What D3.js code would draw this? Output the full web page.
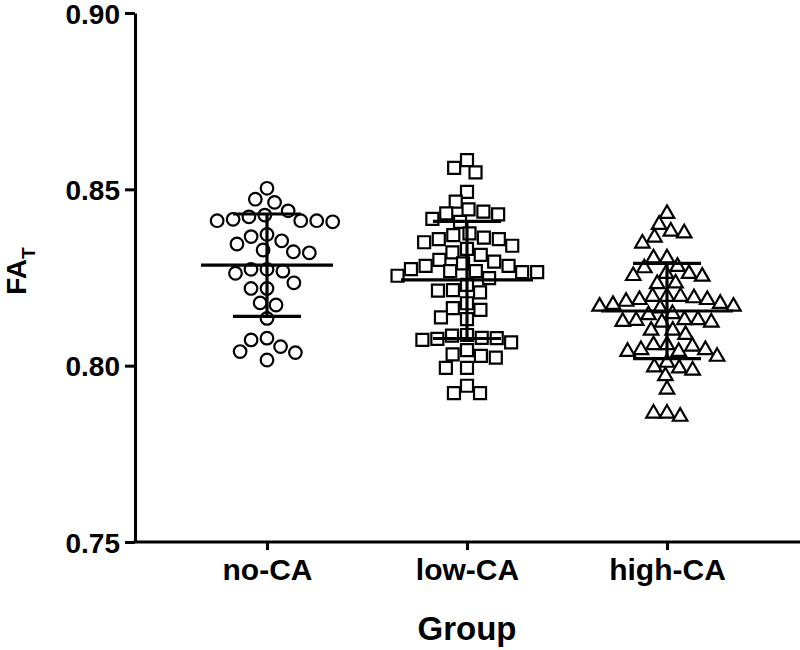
<!DOCTYPE html>
<html><head><meta charset="utf-8">
<script src="https://cdn.jsdelivr.net/npm/d3@7"></script>
<style>
html,body{margin:0;padding:0;background:#fff;}
svg{display:block;}
text{font-family:"Liberation Sans",Arial,Helvetica,sans-serif;font-weight:bold;fill:#000;}
</style></head>
<body>
<svg id="chart" width="800" height="650"></svg>
<script>
const categories = ["no-CA", "low-CA", "high-CA"];
const yTicks = [0.75, 0.80, 0.85, 0.90];
const noCA = [0.8503,0.8472,0.8463,0.8439,0.8427,0.8415,0.8411,0.8408,0.8411,0.8411,0.8422,
  0.8366,0.8372,0.8345,0.8354,0.8320,0.8328,0.8323,0.8262,0.8273,0.8273,0.8268,
  0.8219,0.8219,0.8235,0.8178,0.8172,0.8134,0.8078,0.8073,0.8054,0.8040,0.8037,0.8016];
const lowCA = [0.8583,0.8561,0.8548,0.8493,0.8465,0.8443,0.8432,0.8416,0.8408,0.8429,0.8437,
  0.8375,0.8363,0.8359,0.8340,0.8321,0.8331,0.8350,0.8359,0.8370,
  0.8300,0.8290,0.8283,0.8268,0.8265,0.8265,0.8268,0.8274,0.8283,0.8295,0.8314,
  0.8248,0.8255,0.8214,0.8208,0.8213,0.8229,0.8163,0.8137,0.8132,0.8158,0.8177,
  0.8087,0.8079,0.8076,0.8066,0.8073,0.8078,0.8085,0.8044,0.8028,0.8023,0.8032,
  0.7994,0.7994,0.7943,0.7922,0.7922];
const highCA = [0.8435,0.8404,0.8385,0.8380,0.8368,0.8351,0.8309,0.8309,0.8285,0.8265,0.8257,
  0.8259,0.8265,0.8281,0.8238,0.8236,0.8196,0.8191,0.8180,0.8172,0.8167,0.8200,0.8200,
  0.8172,0.8177,0.8186,0.8191,0.8200,0.8148,0.8151,0.8134,0.8132,0.8134,0.8129,0.8127,
  0.8127,0.8104,0.8092,0.8104,0.8063,0.8049,0.8044,0.8063,0.8044,0.8049,0.8059,
  0.8030,0.8013,0.8000,0.7997,0.7975,0.7991,0.7937,0.7869,0.7860,0.7869];
const means = [0.8285, 0.8243, 0.8155];
const sds = [0.0145, 0.0166, 0.0135];
const seriesValues = [noCA, lowCA, highCA];

const svg = d3.select("#chart");
const y = d3.scaleLinear().domain([0.75, 0.90]).range([542, 13]);
const x = d3.scalePoint().domain(categories).range([134, 800]).padding(0.665);
const x0 = 135;

// axes
const yAxis = svg.append("g").attr("transform", `translate(${x0},0)`)
  .call(d3.axisLeft(y).tickValues(yTicks).tickFormat(d3.format(".2f")).tickSize(10).tickSizeOuter(0).tickPadding(5));
yAxis.select(".domain").attr("stroke-width", 3);
yAxis.selectAll(".tick line").attr("stroke-width", 3);
yAxis.selectAll(".tick text").attr("font-size", 28).attr("dy", "0.36em")
  .attr("font-family", '"Liberation Sans",Arial,sans-serif').attr("font-weight", "bold");

const xAxis = svg.append("g").attr("transform", `translate(0,${y(0.75)})`)
  .call(d3.axisBottom(x).tickSize(8).tickSizeOuter(0).tickPadding(9));
xAxis.select(".domain").attr("stroke-width", 3).attr("d", `M${x0 - 1.5},0H800`);
xAxis.selectAll(".tick line").attr("stroke-width", 3);
xAxis.selectAll(".tick text").attr("font-size", 30).attr("dy", "0.71em")
  .attr("font-family", '"Liberation Sans",Arial,sans-serif').attr("font-weight", "bold");

// axis titles
svg.append("text").attr("x", 467).attr("y", 640).attr("text-anchor", "middle")
  .attr("font-size", 33).text("Group");
const yt = svg.append("text").attr("transform", "translate(26,271) rotate(-90)")
  .attr("text-anchor", "middle").attr("font-size", 28);
yt.append("tspan").text("FA");
yt.append("tspan").attr("font-size", 19).attr("dy", 9).text("T");

// beeswarm dodge layout
function dodge(values, diam) {
  const pts = values.map((v, i) => ({v, i, y: y(v), x: 0}))
    .sort((a, b) => b.v - a.v);
  const placed = [];
  for (const p of pts) {
    const near = placed.filter(q => Math.abs(q.y - p.y) < diam);
    const cands = [0];
    for (const q of near) {
      const dx = Math.sqrt(diam * diam - (q.y - p.y) ** 2);
      cands.push(q.x - dx, q.x + dx);
    }
    cands.sort((a, b) => Math.abs(a) - Math.abs(b) || a - b);
    for (const c of cands) {
      if (near.every(q => (q.x - c) ** 2 + (q.y - p.y) ** 2 >= diam * diam - 0.01)) { p.x = c; break; }
    }
    placed.push(p);
  }
  return placed;
}

const symbols = [
  d3.symbol().type(d3.symbolCircle).size(Math.PI * 6.3 * 6.3),
  d3.symbol().type(d3.symbolSquare).size(12 * 12),
  d3.symbol().type(d3.symbolTriangle).size(Math.sqrt(3) / 4 * 14.5 * 14.5)
];
const spacing = [16, 15, 13.5];

categories.forEach((cat, gi) => {
  const cx = x(cat);
  const g = svg.append("g");
  const pts = dodge(seriesValues[gi], spacing[gi]);
  g.selectAll("path.pt").data(pts).join("path").attr("class", "pt")
    .attr("transform", d => `translate(${cx + d.x},${d.y + (gi === 2 ? 1.5 : 0)})`)
    .attr("d", symbols[gi]())
    .attr("fill", "#fff").attr("stroke", "#000").attr("stroke-width", 2.2);
  const m = means[gi], s = sds[gi];
  const eg = svg.append("g").attr("stroke", "#000").attr("stroke-width", 3.2);
  eg.append("line").attr("x1", cx).attr("x2", cx).attr("y1", y(m + s)).attr("y2", y(m - s));
  eg.append("line").attr("x1", cx - 34).attr("x2", cx + 34).attr("y1", y(m + s)).attr("y2", y(m + s));
  eg.append("line").attr("x1", cx - 34).attr("x2", cx + 34).attr("y1", y(m - s)).attr("y2", y(m - s));
  eg.append("line").attr("x1", cx - 66).attr("x2", cx + 66).attr("y1", y(m)).attr("y2", y(m));
});
</script>
</body></html>
